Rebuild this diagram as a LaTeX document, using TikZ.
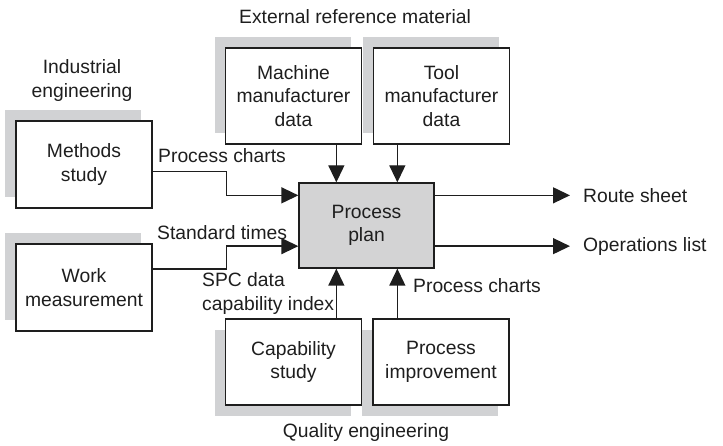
\documentclass[tikz,border=0pt]{standalone}
\usepackage{fontspec}
\setmainfont{Liberation Sans}
\usetikzlibrary{arrows.meta,shadows,positioning,calc}
\definecolor{shadegray}{RGB}{209,210,212}
\definecolor{plangray}{RGB}{211,211,212}
\definecolor{inkgray}{RGB}{30,30,30}

\begin{document}
\begin{tikzpicture}[x=1pt, y=-1pt, font=\fontsize{19.3}{23.3}\selectfont]
		\tikzstyle{Box} = [rectangle, minimum width=136pt, inner sep=0pt, text centered, align=center, text=inkgray, draw=inkgray, line width=1.3pt, fill=white]
		\tikzstyle{UpShadow} = [general shadow={fill=shadegray, shadow xshift=-11pt, shadow yshift=11pt}]
		\tikzstyle{DownShadow} = [general shadow={fill=shadegray, shadow xshift=-11pt, shadow yshift=-11pt}]
		\tikzstyle{Label} = [inner sep=2pt, text=inkgray, align=left]
		\tikzstyle{arrow} = [line width=1.3pt, draw=inkgray, -{Triangle[length=17pt, width=16pt]}]
		
		\useasboundingbox (0,0) rectangle (723,446);
		
		\node (methods) [Box, UpShadow, minimum height=87pt] at (84,164.5) {Methods\\study};
		\node (work) [Box, UpShadow, minimum height=87pt] at (84,287.5) {Work\\measurement};
		\node (machine) [Box, UpShadow, minimum height=96pt] at (293.5,96) {Machine\\manufacturer\\data};
		\node (tool) [Box, UpShadow, minimum height=96pt] at (441.5,96) {Tool\\manufacturer\\data};
		\node (plan) [Box, fill=plangray, minimum width=135pt, minimum height=85pt] at (366.5,225.5) {Process\\plan};
		\node (capability) [Box, DownShadow, minimum height=86pt] at (293.5,362) {Capability\\study};
		\node (improve) [Box, DownShadow, minimum height=86pt] at (441,362) {Process\\improvement};
		
		\node (industrial) [Label, align=center] at (82,80.5) {Industrial\\engineering};
		\node (external) [Label] at (355,17) {External reference material};
		\node (quality) [Label] at (366,433) {Quality engineering};
		
		\coordinate (rowA) at ($(plan.north west)+(0,13)$);
		\coordinate (rowB) at ($(plan.south west)+(0,-22.5)$);
		\coordinate (colA) at ($(plan.south west)+(38,0)$);
		\coordinate (colB) at ($(plan.south west)+(99,0)$);
		\coordinate (routeEnd) at (570,0 |- rowA);
		\coordinate (opsEnd) at (570,0 |- rowB);
		
		\node (route) [Label, right=11pt of routeEnd] {Route sheet};
		\node (ops) [Label, right=11pt of opsEnd] {Operations list};
		\node (chartsIn) [Label, anchor=west] at (156,156) {Process charts};
		\node (times) [Label, anchor=west] at (155,233) {Standard times};
		\node (spc) [Label, anchor=west] at (200,293.5) {SPC data\\capability index};
		\node (chartsUp) [Label, anchor=west] at (411,286) {Process charts};
		
		\draw [arrow] ($(methods.east)+(0,7)$) -- ++(74,0) |- (plan.west |- rowA);
		\draw [arrow] ($(work.east)+(0,-18.5)$) -- ++(74,0) |- (plan.west |- rowB);
		\draw [arrow] (machine.south -| colA) -- (plan.north -| colA);
		\draw [arrow] (tool.south -| colB) -- (plan.north -| colB);
		\draw [arrow] (capability.north -| colA) -- (colA);
		\draw [arrow] (improve.north -| colB) -- (colB);
		\draw [arrow] (plan.east |- rowA) -- (routeEnd);
		\draw [arrow] (plan.east |- rowB) -- (opsEnd);
\end{tikzpicture}
\end{document}
